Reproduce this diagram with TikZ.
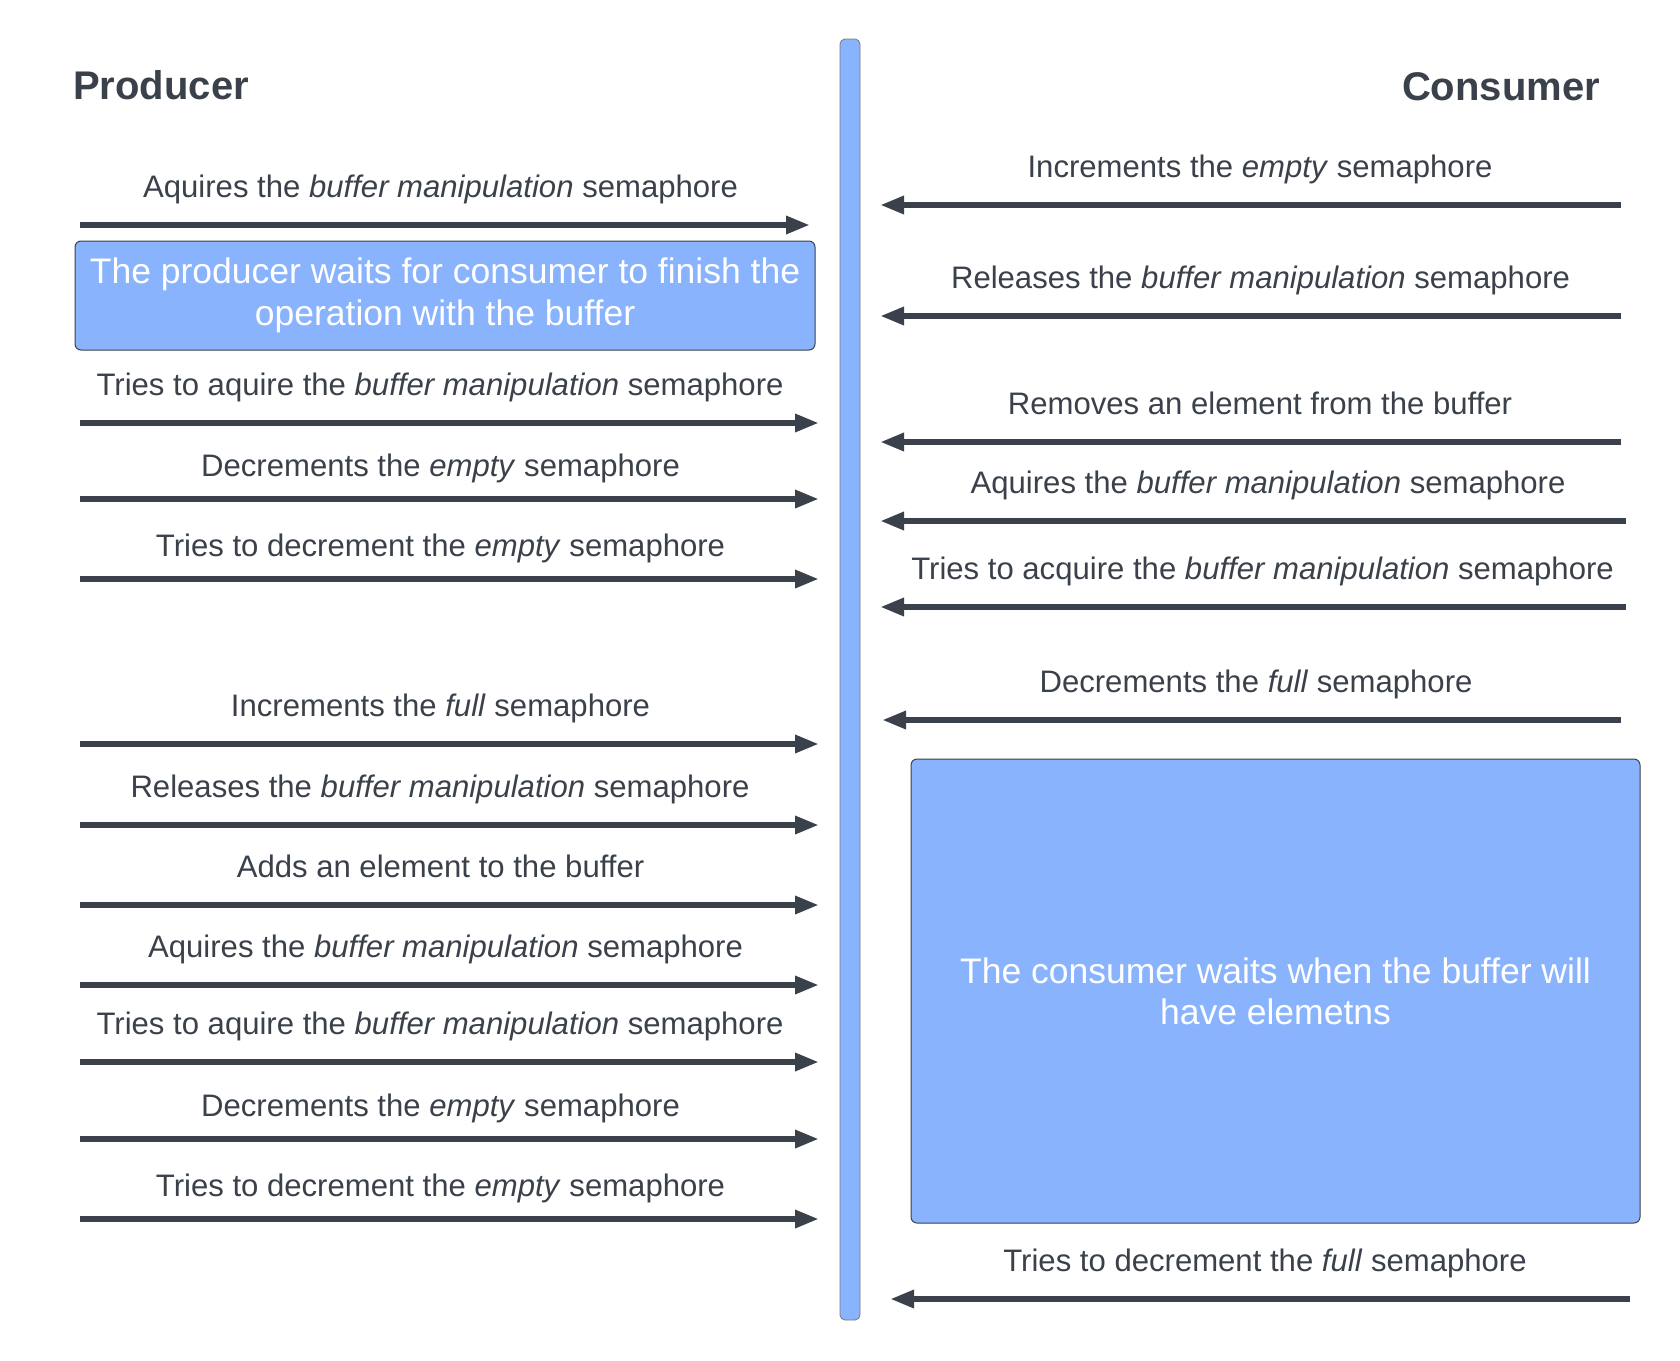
\documentclass[tikz,border=0pt]{standalone}
\usepackage{fontspec}
\setmainfont{Liberation Sans}
\usetikzlibrary{arrows.meta}
\definecolor{ink}{HTML}{3A414A}
\definecolor{lucidblue}{HTML}{8AB3FE}
\begin{document}
\begin{tikzpicture}[x=1pt,y=-1pt,
  arr/.style={draw=ink, line width=6pt, -{Triangle[length=24pt,width=17pt]}},
  lbl/.style={anchor=base, text=ink, inner sep=0pt, font=\fontsize{31.1}{36}\selectfont},
  head/.style={text=ink, inner sep=0pt, font=\fontsize{40}{46}\bfseries\selectfont},
  waitbox/.style={draw=ink, line width=1pt, fill=lucidblue, rounded corners=6pt,
    text=white, align=center, font=\fontsize{35.5}{42}\selectfont, inner sep=0pt},
  barbox/.style={draw=ink!70, line width=0.8pt, fill=lucidblue, rounded corners=5pt, inner sep=0pt},
]
\useasboundingbox[fill=white] (0,0) rectangle (1680,1360);

% headings
\node[head, anchor=base west] (prod) at (73,99) {Producer};
\node[head, anchor=base east] (cons) at (1600,100) {Consumer};

% central bar
\node[barbox, minimum width=20pt, minimum height=1281pt] (bar) at (850,679.5) {};

% waiting boxes
\node[waitbox, minimum width=740pt, minimum height=109pt] (pwait) at (445,295.5)
  {The producer waits for consumer to finish the\\operation with the buffer};
\node[waitbox, minimum width=729pt, minimum height=464pt] (cwait) at (1275.5,991)
  {The consumer waits when the buffer will\\[-1pt]have elemetns};

% producer arrows
\coordinate (l1s) at (80,225);  \coordinate (l1e) at (810,225);
\coordinate (l2s) at (80,423);  \coordinate (l2e) at (819,423);
\coordinate (l3s) at (80,499);  \coordinate (l3e) at (819,499);
\coordinate (l4s) at (80,579);  \coordinate (l4e) at (819,579);
\coordinate (l5s) at (80,744);  \coordinate (l5e) at (819,744);
\coordinate (l6s) at (80,825);  \coordinate (l6e) at (819,825);
\coordinate (l7s) at (80,905);  \coordinate (l7e) at (819,905);
\coordinate (l8s) at (80,985);  \coordinate (l8e) at (819,985);
\coordinate (l9s) at (80,1062); \coordinate (l9e) at (819,1062);
\coordinate (l10s) at (80,1139); \coordinate (l10e) at (819,1139);
\coordinate (l11s) at (80,1219); \coordinate (l11e) at (819,1219);
\foreach \i in {1,...,11} { \draw[arr] (l\i s) -- (l\i e); }

\node[lbl] (t1) at (440.5,197) {Aquires the \textit{buffer manipulation} semaphore};
\node[lbl] (t2) at (440,395) {Tries to aquire the \textit{buffer manipulation} semaphore};
\node[lbl] (t3) at (440.5,476) {Decrements the \textit{empty} semaphore};
\node[lbl] (t4) at (440.5,556) {Tries to decrement the \textit{empty} semaphore};
\node[lbl] (t5) at (440.5,716) {Increments the \textit{full} semaphore};
\node[lbl] (t6) at (440,797) {Releases the \textit{buffer manipulation} semaphore};
\node[lbl] (t7) at (440.5,877) {Adds an element to the buffer};
\node[lbl] (t8) at (445.5,957) {Aquires the \textit{buffer manipulation} semaphore};
\node[lbl] (t9) at (440,1034) {Tries to aquire the \textit{buffer manipulation} semaphore};
\node[lbl] (t10) at (440.5,1116) {Decrements the \textit{empty} semaphore};
\node[lbl] (t11) at (440.5,1196) {Tries to decrement the \textit{empty} semaphore};

% consumer arrows
\coordinate (r1s) at (1621,205);  \coordinate (r1e) at (880,205);
\coordinate (r2s) at (1621,316);  \coordinate (r2e) at (880,316);
\coordinate (r3s) at (1621,442);  \coordinate (r3e) at (880,442);
\coordinate (r4s) at (1626,521);  \coordinate (r4e) at (880,521);
\coordinate (r5s) at (1626,607);  \coordinate (r5e) at (880,607);
\coordinate (r6s) at (1621,720);  \coordinate (r6e) at (882,720);
\coordinate (r7s) at (1630,1299); \coordinate (r7e) at (890,1299);
\foreach \i in {1,...,7} { \draw[arr] (r\i s) -- (r\i e); }

\node[lbl] (u1) at (1260,177) {Increments the \textit{empty} semaphore};
\node[lbl] (u2) at (1260.5,288) {Releases the \textit{buffer manipulation} semaphore};
\node[lbl] (u3) at (1260,414) {Removes an element from the buffer};
\node[lbl] (u4) at (1268,493) {Aquires the \textit{buffer manipulation} semaphore};
\node[lbl] (u5) at (1262.5,579) {Tries to acquire the \textit{buffer manipulation} semaphore};
\node[lbl] (u6) at (1256,692) {Decrements the \textit{full} semaphore};
\node[lbl] (u7) at (1265,1271) {Tries to decrement the \textit{full} semaphore};
\end{tikzpicture}
\end{document}
